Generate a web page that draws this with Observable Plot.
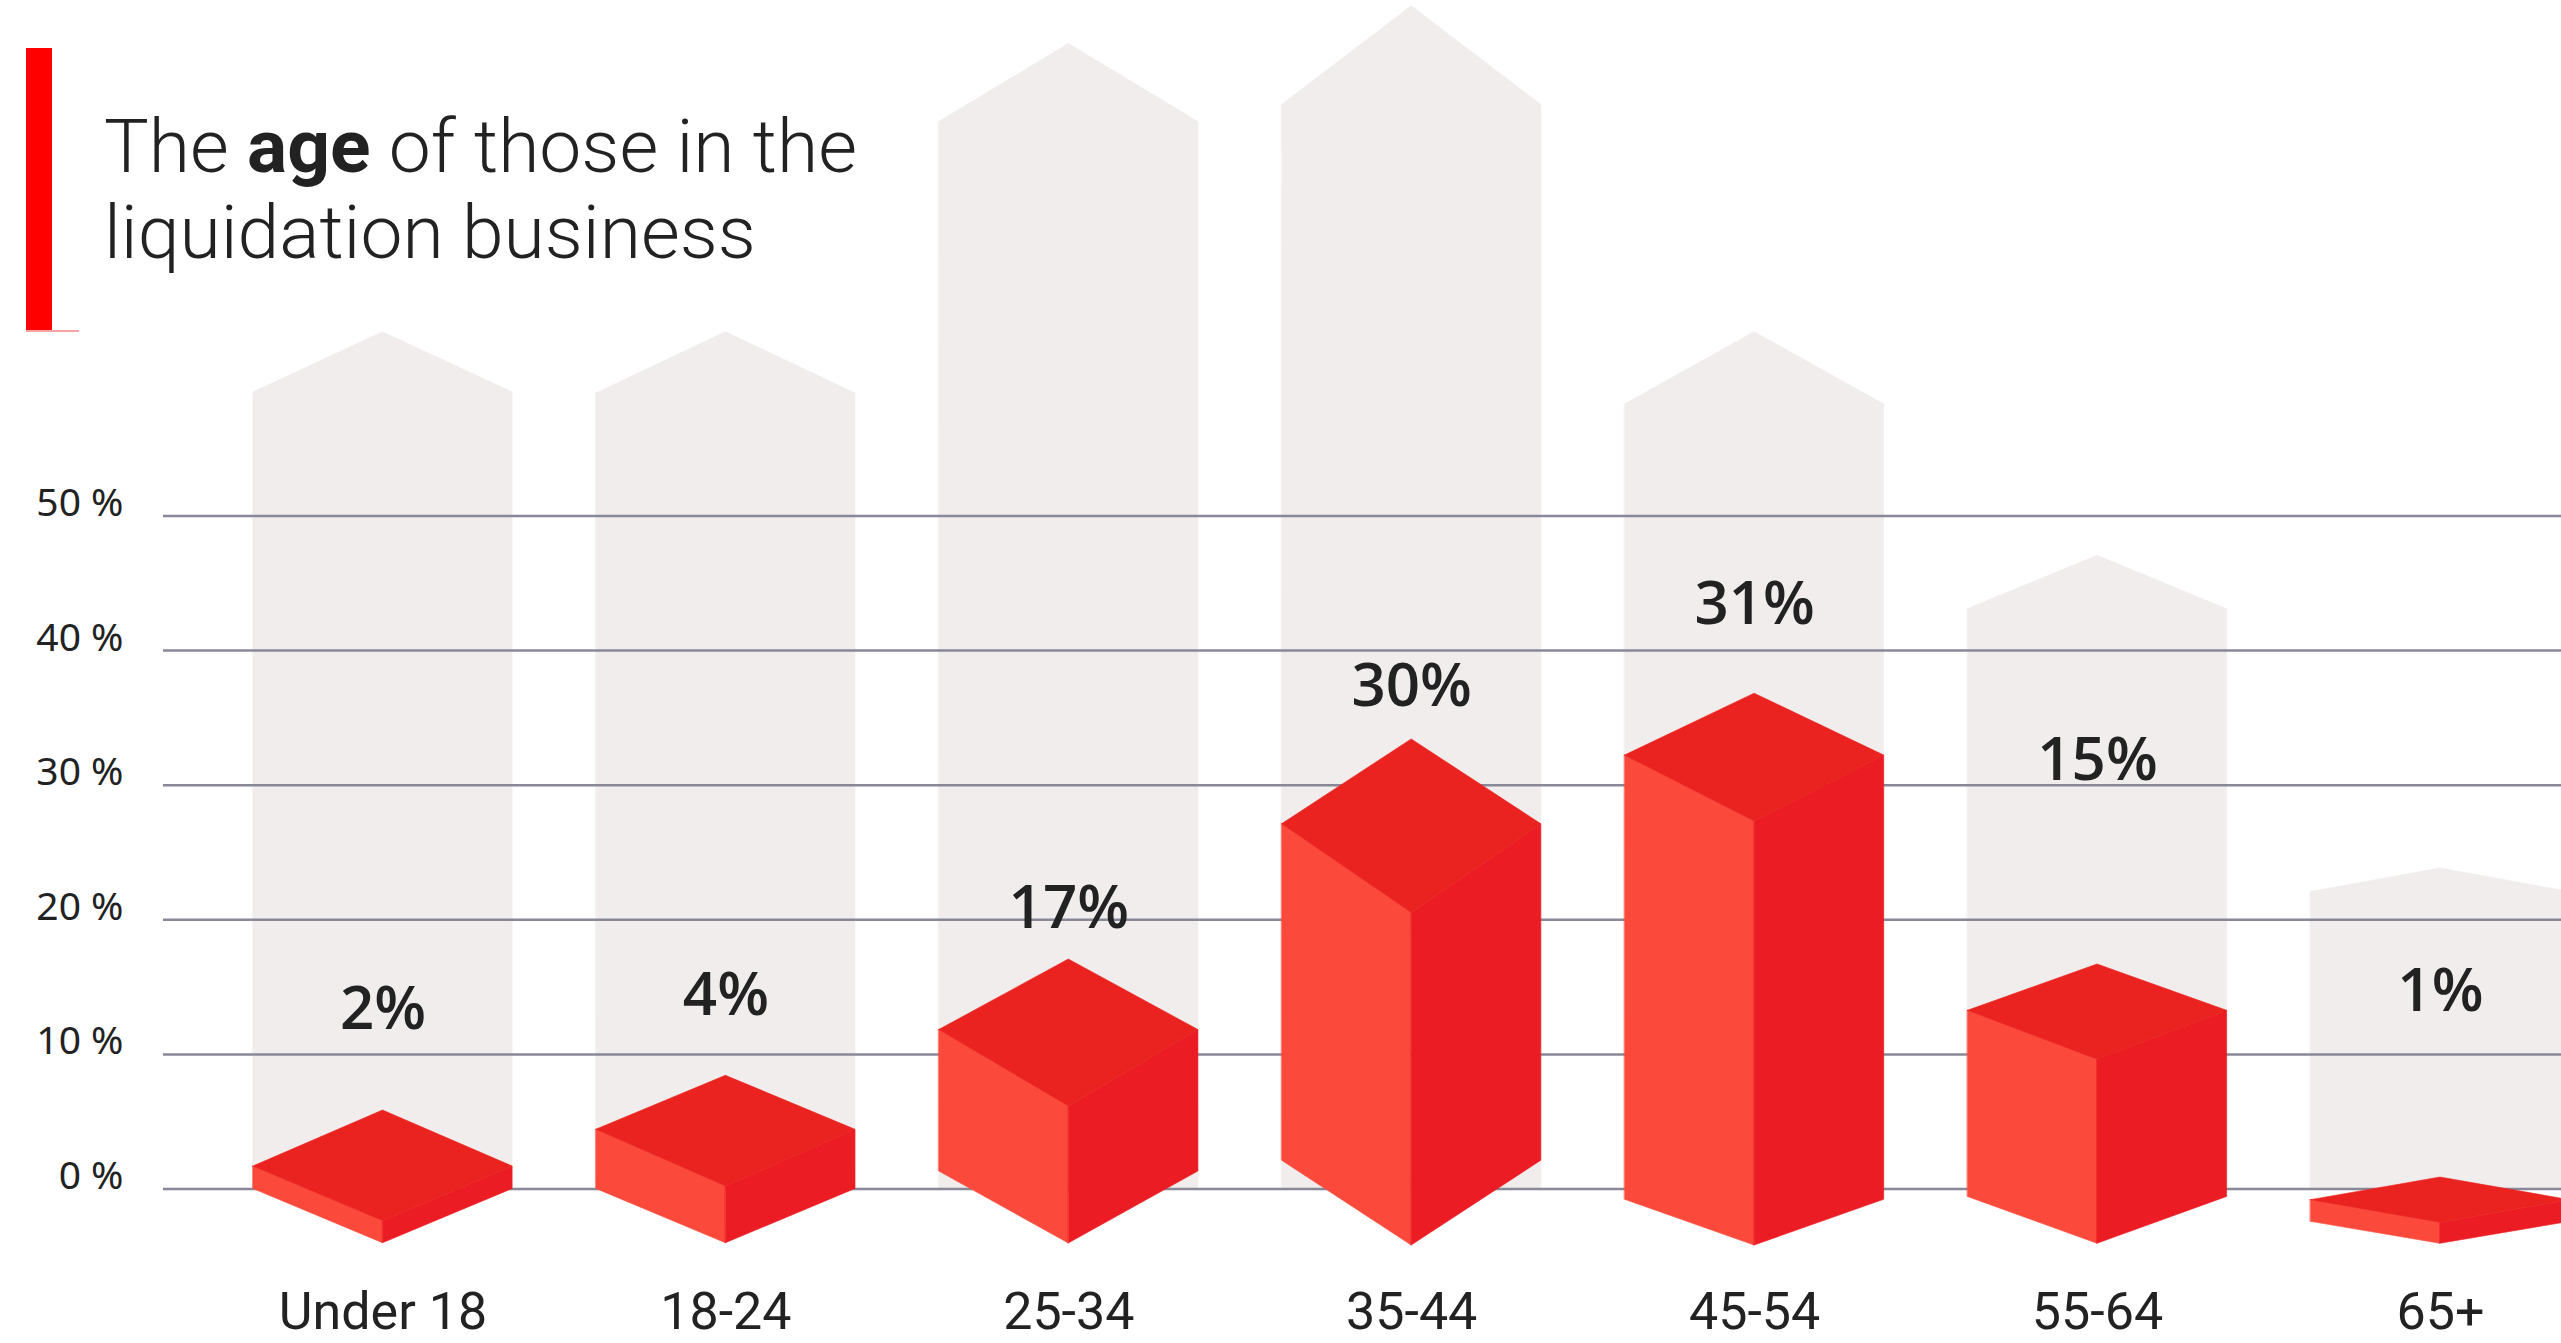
<!DOCTYPE html>
<html>
<head>
<meta charset="utf-8">
<script src="https://cdn.jsdelivr.net/npm/d3@7"></script>
<script src="https://cdn.jsdelivr.net/npm/@observablehq/plot@0.6"></script>
<style>
  html, body { margin: 0; padding: 0; background: #ffffff; overflow: hidden; }
  #wrap { position: relative; width: 2561px; height: 1343px; }
  #chart { position: absolute; left: 0; top: 0; }
  #bar { position: absolute; left: 26px; top: 48px; width: 26px; height: 283px; background: #ff0000; }
  #barline { position: absolute; left: 26px; top: 330px; width: 53px; height: 1.5px; background: #f7a3a3; }
  #title { position: absolute; left: 104px; top: 103px; font-family: Roboto, sans-serif; font-weight: 300;
           font-size: 75px; line-height: 86px; color: #222222; white-space: nowrap; }
  #title b { font-weight: 700; }
</style>
</head>
<body>
<div id="wrap">
  <div id="chart"></div>
  <div id="bar"></div>
  <div id="barline"></div>
  <div id="title">The <b>age</b> of those in the<br>liquidation business</div>
</div>
<script>
// ---- data (all levels in % on the y axis) ----
const categories = ["Under 18", "18-24", "25-34", "35-44", "45-54", "55-64", "65+"];
const shares = [2, 4, 17, 30, 31, 15, 1];
const labelLevel = [11.9, 12.9, 19.4, 35.9, 42.0, 30.4, 13.2];
// cube outline levels
const cubeApex     = [5.83, 8.41, 17.05, 33.4, 36.8, 16.68, 0.85];
const cubeShoulder = [1.67, 4.40, 11.81, 27.1, 32.2, 13.24, -0.83];
const cubeFront    = [-2.39, 0.19, 6.13, 20.5, 27.3, 9.60, -2.52];
const cubeBase     = [0, 0, 1.30, 2.1, -0.8, -0.59, -2.44];
const cubeFoot     = [-4.03, -4.03, -4.05, -4.2, -4.2, -4.07, -4.07];
// background "house" columns
const houseShoulder = [59.17, 59.1, 79.27, 80.54, 58.28, 43.07, 22.06];
const housePeak     = [63.66, 63.66, 85.07, 87.87, 63.66, 47.04, 23.81];
const yTicks = [0, 10, 20, 30, 40, 50];

// ---- geometry built from the arrays ----
const hw = 0.378; // half width of a column, in category units
const idx = categories.map((_, i) => i);

const houseRows = idx.flatMap(i => [
  {k: i, x: i - hw, y1: 0, y2: houseShoulder[i]},
  {k: i, x: i,      y1: 0, y2: housePeak[i]},
  {k: i, x: i + hw, y1: 0, y2: houseShoulder[i]}
]);
const topRows = idx.flatMap(i => [
  {k: i, x: i - hw, y1: cubeShoulder[i], y2: cubeShoulder[i]},
  {k: i, x: i,      y1: cubeFront[i],    y2: cubeApex[i]},
  {k: i, x: i + hw, y1: cubeShoulder[i], y2: cubeShoulder[i]}
]);
const leftRows = idx.flatMap(i => [
  {k: i, x: i - hw, y1: cubeBase[i], y2: cubeShoulder[i]},
  {k: i, x: i,      y1: cubeFoot[i], y2: cubeFront[i]}
]);
const rightRows = idx.flatMap(i => [
  {k: i, x: i,      y1: cubeFoot[i], y2: cubeFront[i]},
  {k: i, x: i + hw, y1: cubeBase[i], y2: cubeShoulder[i]}
]);

const area = (rows, color) => Plot.areaY(rows, {
  x: "x", y1: "y1", y2: "y2", z: "k", fill: color, stroke: color, strokeWidth: 0.6, curve: "linear"
});

const chart = Plot.plot({
  width: 2561,
  height: 1343,
  marginLeft: 163,
  marginRight: 0,
  marginTop: 0,
  marginBottom: 0,
  style: {background: "transparent", fontFamily: "'Noto Sans', sans-serif", color: "#222"},
  x: {type: "linear", domain: [0, 6], range: [382.5, 2439.9], axis: null},
  y: {type: "linear", domain: [0, 50], range: [1188.5, 515.5], axis: null},
  marks: [
    area(houseRows, "#f0edec"),
    Plot.ruleY(yTicks, {y: d => d, stroke: "#888899", strokeWidth: 2.5}),
    Plot.text(yTicks, {
      y: d => d, frameAnchor: "left", textAnchor: "end", dx: -40, lineAnchor: "bottom",
      text: d => `${d} %`, fontSize: 39, fill: "#222", fontFamily: "'Noto Sans', sans-serif"
    }),
    area(leftRows, "#fb4a3b"),
    area(rightRows, "#ec1c24"),
    area(topRows, "#eb2320"),
    Plot.text(idx, {
      x: i => i, y: i => labelLevel[i], text: i => `${shares[i]}%`, lineAnchor: "bottom",
      fontSize: 60, fontWeight: 600, fill: "#222", fontFamily: "'Open Sans', 'Noto Sans', sans-serif"
    }),
    Plot.text(categories, {
      x: (d, i) => i, frameAnchor: "bottom", lineAnchor: "bottom", dy: -15, text: d => d,
      fontSize: 52, fill: "#222", fontFamily: "Roboto, sans-serif"
    })
  ]
});
document.getElementById("chart").appendChild(chart);
</script>
</body>
</html>
